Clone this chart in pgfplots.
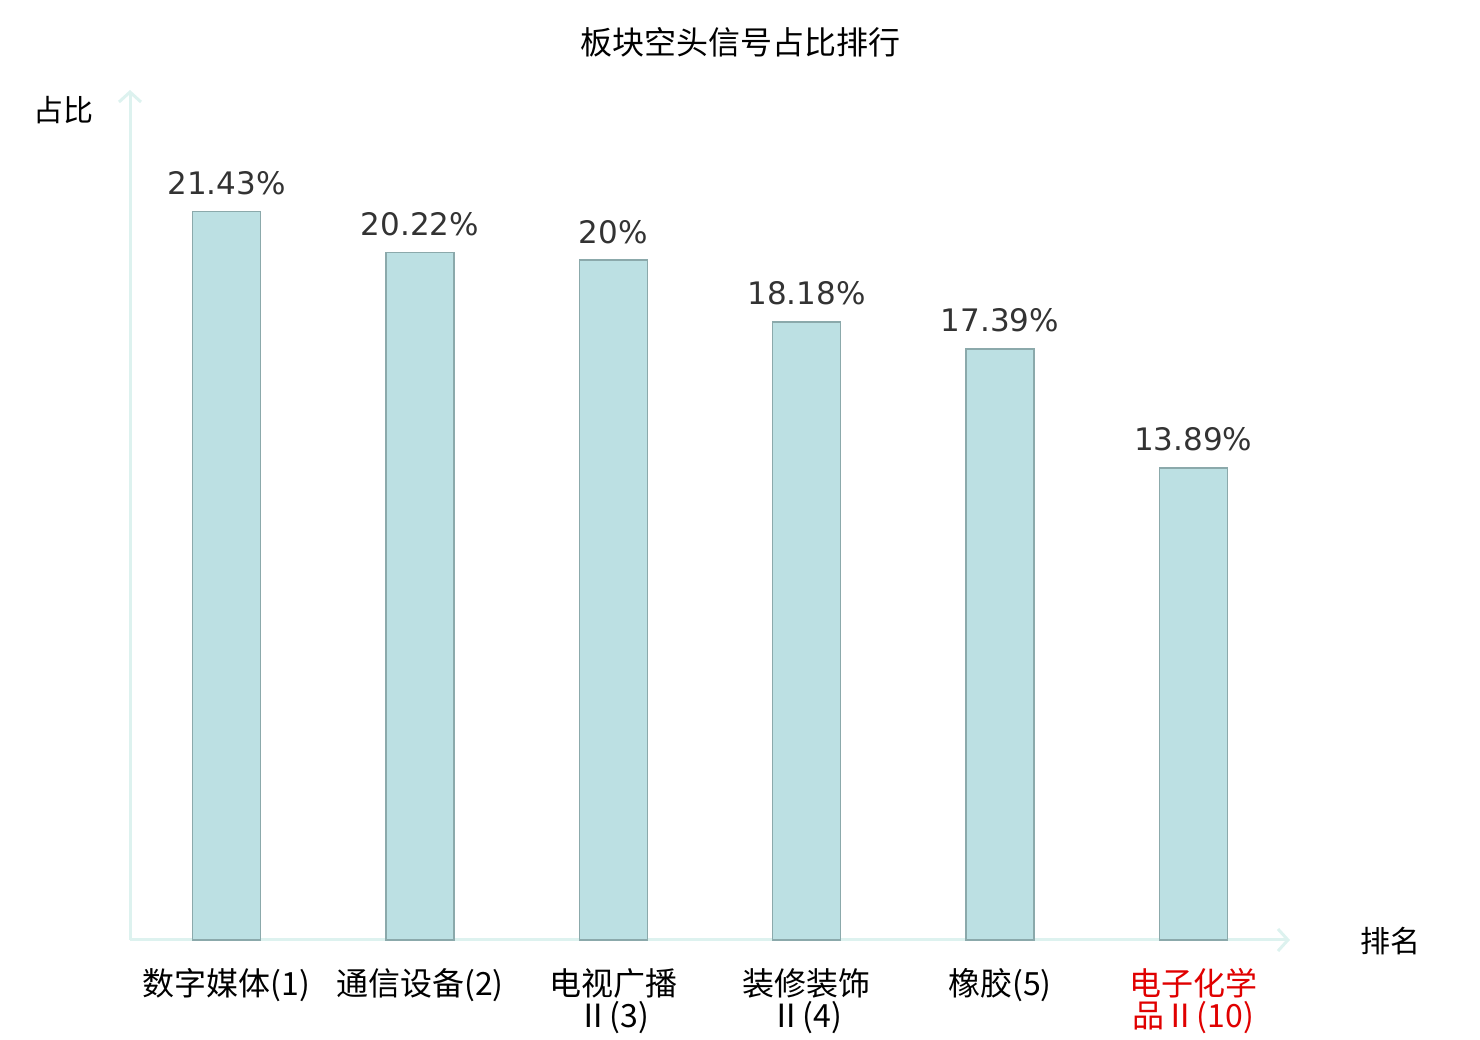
\documentclass[border=0pt]{standalone}
\usepackage{fontspec}
\setmainfont{DejaVu Sans}
\newfontfamily\cjk{Noto Sans CJK SC}
\usepackage{pgfplots}
\pgfplotsset{compat=1.18}
\usetikzlibrary{arrows.meta}
\definecolor{barfill}{HTML}{BCE0E3}
\definecolor{bardraw}{HTML}{8BA9AB}
\definecolor{axcol}{HTML}{DDF2EF}
\definecolor{lab}{HTML}{333333}
\definecolor{redlab}{HTML}{E00000}
\begin{document}
\begin{tikzpicture}
\useasboundingbox (0,0) rectangle (740pt,520pt);
\begin{axis}[
  at={(65pt,50pt)}, anchor=south west,
  scale only axis, width=580pt, height=425pt,
  xmin=-0.5, xmax=5.5, ymin=0, ymax=25,
  axis lines=left,
  axis line style={axcol, line width=1.5pt, -{Straight Barb[length=5pt,width=11pt]}},
  xtick={0,1,2,3,4,5},
  xticklabels={数字媒体(1), 通信设备(2), 电视广播\\Ⅱ(3), 装修装饰\\Ⅱ(4), 橡胶(5), \color{redlab}电子化学\\\color{redlab}品Ⅱ(10)},
  xticklabel style={align=center, font=\cjk\fontsize{16}{16}\selectfont, text=black, yshift=-8.5pt},
  xtick style={draw=none},
  ytick=\empty,
  clip=false,
  point meta=explicit symbolic,
  nodes near coords,
  nodes near coords style={font=\fontsize{15.5}{17}\selectfont, text=lab, yshift=4.5pt},
]
\addplot[ybar, bar width=34pt, fill=barfill, draw=bardraw, line width=0.8pt]
  coordinates {(0,21.43)[21.43\%] (1,20.22)[20.22\%] (2,20)[20\%] (3,18.18)[18.18\%] (4,17.39)[17.39\%] (5,13.89)[13.89\%]};
\end{axis}
\node[font=\cjk\fontsize{16}{18}\selectfont] at (370pt,499pt) {板块空头信号占比排行};
\node[font=\cjk\fontsize{15}{17}\selectfont] at (31.5pt,465pt) {占比};
\node[font=\cjk\fontsize{15}{17}\selectfont] at (695pt,49.5pt) {排名};
\end{tikzpicture}
\end{document}
